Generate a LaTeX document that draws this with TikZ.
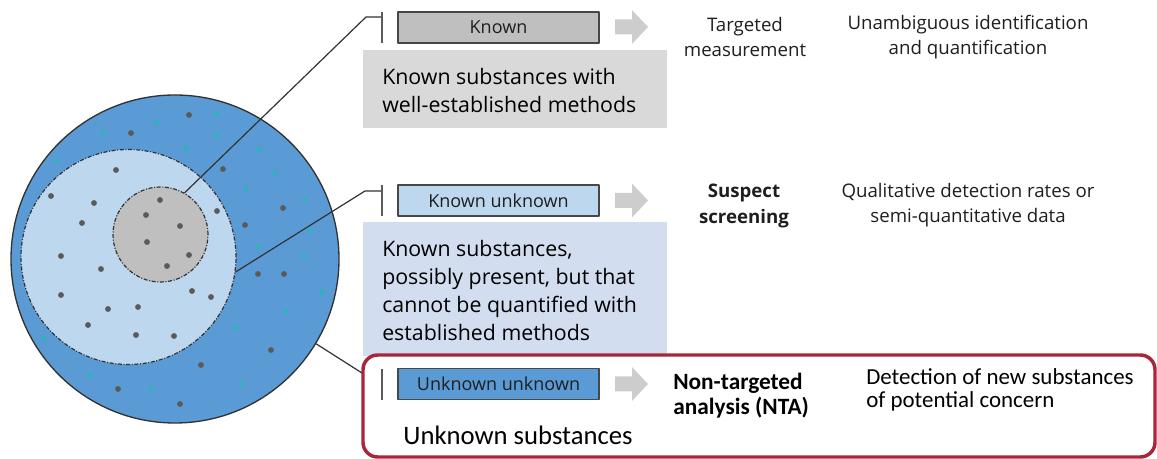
\documentclass[tikz,border=0pt]{standalone}
\usepackage{fontspec}
\setmainfont{Open Sans}
\newfontfamily\calib{Carlito}
\definecolor{greyfill}{RGB}{217,217,217}
\definecolor{bluefill}{RGB}{210,222,239}
\definecolor{midblue}{RGB}{91,155,213}
\definecolor{lightblue}{RGB}{189,215,238}
\definecolor{greycirc}{RGB}{191,191,191}
\definecolor{outl}{RGB}{50,50,50}
\definecolor{dotdark}{RGB}{90,90,90}
\definecolor{dotteal}{RGB}{48,178,186}
\definecolor{arrowgray}{RGB}{205,205,205}
\definecolor{redc}{RGB}{168,38,58}
\definecolor{txt}{RGB}{30,30,30}
\begin{document}
\begin{tikzpicture}[x=0.75pt,y=-0.75pt,line join=round,
  conn/.style={draw=outl,line width=0.9pt},
  barline/.style={draw=outl!80,line width=1pt},
  catbox/.style={draw=outl!90,line width=1pt,minimum width=150.75pt,minimum height=23.25pt,inner sep=0pt,font=\fontsize{13.5}{16}\selectfont,text=txt},
  maintxt/.style={anchor=west,align=left,inner sep=0pt,font=\fontsize{16}{21}\selectfont,text=black},
  coltxt/.style={align=center,inner sep=0pt,font=\fontsize{14}{18.75}\selectfont,text=txt},
  dashdot/.style={dash pattern=on 3pt off 1.2pt on 0.8pt off 1.2pt,line width=0.9pt,draw=outl}]
\useasboundingbox (0,0) rectangle (1157,459);
% background text boxes
\fill[greyfill] (363,50) rectangle (667,128);
\fill[bluefill] (363,222) rectangle (667,356);
% circles
\node[circle,draw=outl,fill=midblue,line width=1pt,minimum size=246pt,inner sep=0pt] (outer) at (175,259) {};
\foreach \px/\py in {217/114,157/123,103/133,217/135,186/148,259/149,57/161,275/173,246/189,305/199,309/230,259/247,304/256,322/292,286/311,236/328,44/339,90/375,151/389,242/384}
  \fill[dotteal] (\px,\py) circle (1.9pt);
\node[circle,dashdot,fill=lightblue,minimum size=161.25pt,inner sep=0pt] (light) at (128.5,257) {};
\node[circle,dashdot,fill=greycirc,minimum size=71.25pt,inner sep=0pt] (grey) at (160.5,234.5) {};
\foreach \px/\py in {189/115,131/133,223/169,116/170,51/196,94/203,160/200,146/215,217/211,283/208,82/223,180/226,245/225,147/242,61/256,189/255,101/269,167/266,258/274,284/274,61/295,192/291,211/297,108/309,138/307,88/325,136/335,174/336,271/350,201/365,118/389,180/404}
  \fill[dotdark] (\px,\py) circle (2.2pt);
% connectors to the bars
\coordinate (b1) at (382,17);
\coordinate (b2) at (382,191);
\coordinate (b3) at (382,373);
\draw[conn] (grey.60) -- (366,17) -- (b1);
\draw[conn] (light.-8) -- (365,191) -- (b2);
\draw[conn] (outer.-31.5) -- (362,373) -- (b3);
\draw[barline] (382,12) -- (382,43);
\draw[barline] (382,185) -- (382,216);
% red box
\draw[line width=2.6pt,draw=redc,fill=white,rounded corners=11pt] (363,355) rectangle (1155,457);
\draw[barline] (382,369) -- (382,400);
% category boxes
\node[catbox,fill=greycirc] (k1) at (498.5,27.5) {Known};
\node[catbox,fill=lightblue] (k2) at (498.5,200.5) {Known unknown};
\node[catbox,fill=midblue] (k3) at (498.5,384) {Unknown unknown};
% grey arrows
\foreach \yy in {27,200.5,384}{
  \begin{scope}[shift={(0,\yy)}]
  \fill[arrowgray] (615,-7.5) -- (632,-7.5) -- (632,-17) -- (648,0) -- (632,17) -- (632,7.5) -- (615,7.5) -- cycle;
  \end{scope}}
% description texts
\node[maintxt] (d1) at (382,91) {Known substances with\\well-established methods};
\node[maintxt] (d2) at (382,290.5) {Known substances,\\possibly present, but that\\cannot be quantified with\\established methods};
\node[inner sep=0pt,font=\calib\fontsize{20}{24}\selectfont] (d3) at (518,435) {Unknown substances};
% right columns
\node[coltxt] (m1) at (745,37.5) {Targeted\\measurement};
\node[coltxt] (r1) at (968,37.5) {Unambiguous identification\\and quantification};
\node[coltxt,font=\bfseries\fontsize{14}{19.5}\selectfont] (m2) at (744,206) {Suspect\\screening};
\node[coltxt] (r2) at (968,205.5) {Qualitative detection rates or\\semi-quantitative data};
\node[anchor=west,align=left,inner sep=0pt,font=\calib\bfseries\fontsize{17.5}{18.75}\selectfont] (m3) at (673,395.5) {Non-targeted\\analysis (NTA)};
\node[anchor=west,align=left,inner sep=0pt,font=\calib\fontsize{17.2}{17.25}\selectfont] (r3) at (866,389.5) {Detection of new substances\\of potential concern};
\end{tikzpicture}
\end{document}
